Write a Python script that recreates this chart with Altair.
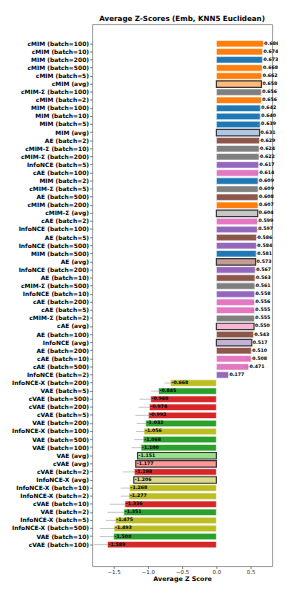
import altair as alt
import pandas as pd

labels = [
    "cMIM (batch=100)", "cMIM (batch=10)", "MIM (batch=200)", "cMIM (batch=500)",
    "cMIM (batch=5)", "cMIM (avg)", "cMIM-Σ (batch=100)", "cMIM (batch=2)",
    "MIM (batch=100)", "MIM (batch=10)", "MIM (batch=5)", "MIM (avg)",
    "AE (batch=2)", "cMIM-Σ (batch=10)", "cMIM-Σ (batch=200)", "InfoNCE (batch=5)",
    "cAE (batch=100)", "MIM (batch=2)", "cMIM-Σ (batch=5)", "AE (batch=500)",
    "cMIM (batch=200)", "cMIM-Σ (avg)", "cAE (batch=2)", "InfoNCE (batch=100)",
    "AE (batch=5)", "InfoNCE (batch=500)", "MIM (batch=500)", "AE (avg)",
    "InfoNCE (batch=200)", "AE (batch=10)", "cMIM-Σ (batch=500)", "InfoNCE (batch=10)",
    "cAE (batch=200)", "cAE (batch=5)", "cMIM-Σ (batch=2)", "cAE (avg)",
    "AE (batch=100)", "InfoNCE (avg)", "AE (batch=200)", "cAE (batch=10)",
    "cAE (batch=500)", "InfoNCE (batch=2)", "InfoNCE-X (batch=200)", "VAE (batch=5)",
    "cVAE (batch=500)", "cVAE (batch=200)", "cVAE (batch=5)", "VAE (batch=200)",
    "InfoNCE-X (batch=100)", "VAE (batch=500)", "VAE (batch=100)", "VAE (avg)",
    "cVAE (avg)", "cVAE (batch=2)", "InfoNCE-X (avg)", "InfoNCE-X (batch=10)",
    "InfoNCE-X (batch=2)", "cVAE (batch=10)", "VAE (batch=2)", "InfoNCE-X (batch=5)",
    "InfoNCE-X (batch=500)", "VAE (batch=10)", "cVAE (batch=100)",
]

values = [
    0.686, 0.674, 0.673, 0.668, 0.662, 0.658, 0.656, 0.656,
    0.642, 0.640, 0.639, 0.631, 0.629, 0.624, 0.622, 0.617,
    0.614, 0.609, 0.609, 0.608, 0.607, 0.604, 0.599, 0.597,
    0.586, 0.584, 0.581, 0.573, 0.567, 0.563, 0.561, 0.558,
    0.556, 0.555, 0.555, 0.550, 0.543, 0.517, 0.510, 0.508,
    0.471, 0.177, -0.668, -0.845, -0.960, -0.978, -0.992, -1.032,
    -1.056, -1.068, -1.100, -1.151, -1.177, -1.198, -1.206, -1.268,
    -1.277, -1.336, -1.351, -1.475, -1.493, -1.500, -1.589,
]

errors = [
    0.04, 0.03, 0.04, 0.04, 0.05, 0.0, 0.04, 0.04,
    0.03, 0.04, 0.05, 0.0, 0.04, 0.03, 0.04, 0.05,
    0.04, 0.03, 0.04, 0.04, 0.04, 0.0, 0.04, 0.06,
    0.05, 0.05, 0.04, 0.0, 0.06, 0.05, 0.04, 0.07,
    0.05, 0.05, 0.04, 0.0, 0.05, 0.0, 0.04, 0.06,
    0.08, 0.10, 0.09, 0.11, 0.16, 0.16, 0.19, 0.13,
    0.12, 0.13, 0.14, 0.0, 0.0, 0.17, 0.0, 0.13,
    0.12, 0.22, 0.24, 0.14, 0.21, 0.20, 0.20,
]

group_colors = {
    "cMIM": ("#ff7f0e", "#ffbb78"),
    "MIM": ("#1f77b4", "#aec7e8"),
    "cMIM-Σ": ("#7f7f7f", "#c7c7c7"),
    "AE": ("#8c564b", "#c49c94"),
    "InfoNCE": ("#9467bd", "#c5b0d5"),
    "cAE": ("#e377c2", "#f7b6d2"),
    "VAE": ("#2ca02c", "#98df8a"),
    "cVAE": ("#d62728", "#ff9896"),
    "InfoNCE-X": ("#bcbd22", "#dbdb8d"),
}

groups = [l.split(" (")[0] for l in labels]
is_avg = ["(avg)" in l for l in labels]
colors = [group_colors[g][1 if a else 0] for g, a in zip(groups, is_avg)]

df = pd.DataFrame({
    "label": labels,
    "value": values,
    "err": errors,
    "is_avg": is_avg,
    "color": colors,
    "txt": [f"{v:.3f}" for v in values],
})
df["lo"] = df["value"] - df["err"]
df["hi"] = df["value"] + df["err"]

FONT = "DejaVu Sans"

y_scale = alt.Scale(paddingInner=0.2, paddingOuter=0, range=[16.7, 535.4])
y_enc = alt.Y(
    "label:N",
    sort=labels,
    scale=y_scale,
    axis=alt.Axis(
        title=None, labelFont=FONT, labelFontWeight="bold", labelFontSize=6.1,
        labelColor="black", tickSize=2.5, tickColor="#444", tickWidth=0.7,
        labelPadding=1.2, domain=False, labelLimit=200,
    ),
)
x_scale = alt.Scale(domain=[-1.814, 0.814], nice=False, zero=False)

base = alt.Chart(df)

bars = base.mark_bar().encode(
    y=y_enc,
    x=alt.X(
        "value:Q", scale=x_scale,
        axis=alt.Axis(
            values=[-1.5, -1.0, -0.5, 0.0, 0.5], format=".1f", grid=False,
            title="Average Z Score", titleFont=FONT, titleFontWeight="bold",
            titleFontSize=6.5, titleColor="black", titlePadding=1,
            labelFont=FONT, labelFontSize=5.5, labelColor="#222",
            tickSize=2.5, tickColor="#444", tickWidth=0.7, labelPadding=1,
            domain=False,
        ),
    ),
    x2=alt.datum(0),
    color=alt.Color("color:N", scale=None),
    stroke=alt.condition("datum.is_avg", alt.value("#333333"), alt.value("white")),
    strokeWidth=alt.condition("datum.is_avg", alt.value(1.2), alt.value(0.6)),
)

err_rules = base.transform_filter("datum.err > 0").mark_rule(
    color="#888888", opacity=0.5, strokeWidth=1
).encode(
    y=alt.Y("label:N", sort=labels),
    x=alt.X("lo:Q", scale=x_scale),
    x2="hi:Q",
)

texts = base.mark_text(
    align="left", baseline="middle", font=FONT, fontWeight="bold",
    fontSize=4.8, color="black", dx=1,
).encode(
    y=alt.Y("label:N", sort=labels),
    x=alt.X("value:Q", scale=x_scale),
    text="txt:N",
)

chart = alt.layer(bars, err_rules, texts).properties(
    width=184,
    height=554,
    title=alt.TitleParams(
        "Average Z-Scores (Emb, KNN5 Euclidean)", font=FONT, fontWeight="bold",
        fontSize=7.3, color="black", offset=2, anchor="middle",
    ),
    autosize=alt.AutoSizeParams(type="none"),
    padding={"left": 86, "top": 10, "right": 6, "bottom": 18},
).configure_view(stroke="#999999", strokeWidth=1)

chart.save("out.html", embed_options={"renderer": "svg", "actions": False})
